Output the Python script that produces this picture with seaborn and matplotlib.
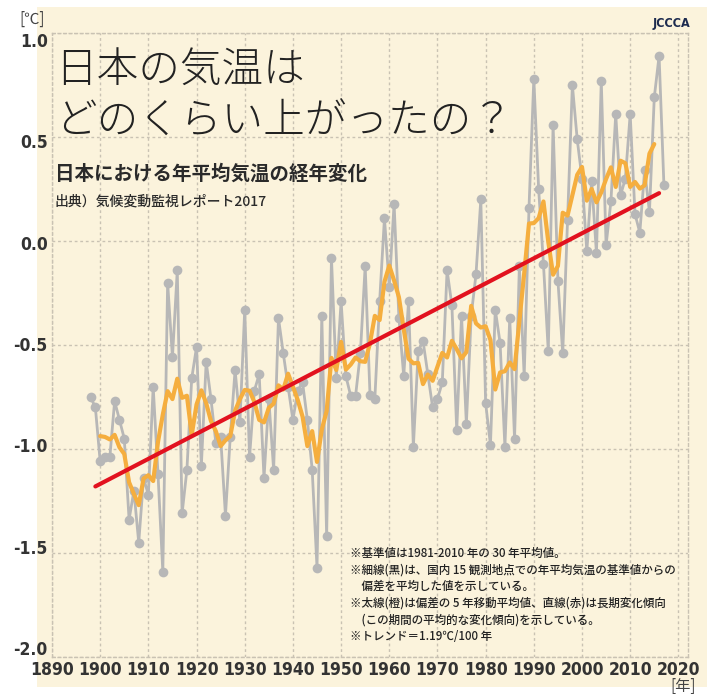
import matplotlib
matplotlib.use("Agg")
import matplotlib.pyplot as plt
import matplotlib.transforms as mtransforms
import numpy as np
import pandas as pd
import seaborn as sns
from matplotlib.patches import Rectangle

# annual mean temperature anomaly in Japan (deg C, base 1981-2010)
years = list(range(1898, 2018))
anomaly = [
    -0.75, -0.80, -1.06, -1.04, -1.04, -0.77, -0.86, -0.95, -1.34, -1.20,   # 1898-1907
    -1.45, -1.14, -1.22, -0.70, -1.12, -1.59, -0.20, -0.56, -0.14, -1.31,   # 1908-1917
    -1.10, -0.66, -0.51, -1.08, -0.58, -0.76, -0.97, -0.94, -1.32, -0.94,   # 1918-1927
    -0.62, -0.87, -0.33, -1.04, -0.72, -0.64, -1.14, -0.76, -1.10, -0.37,   # 1928-1937
    -0.54, -0.70, -0.86, -0.72, -0.68, -0.86, -1.10, -1.57, -0.36, -1.42,   # 1938-1947
    -0.08, -0.66, -0.29, -0.65, -0.745, -0.745, -0.54, -0.12, -0.74, -0.76,  # 1948-1957
    -0.29, 0.11, -0.22, 0.18, -0.37, -0.65, -0.29, -0.99, -0.53, -0.48,     # 1958-1967
    -0.64, -0.80, -0.76, -0.68, -0.14, -0.31, -0.91, -0.36, -0.88, -0.36,   # 1968-1977
    -0.16, 0.20, -0.78, -0.98, -0.33, -0.49, -0.99, -0.37, -0.95, -0.12,    # 1978-1987
    -0.65, 0.16, 0.78, 0.25, -0.11, -0.53, 0.56, -0.19, -0.54, 0.10,        # 1988-1997
    0.75, 0.49, 0.30, -0.05, 0.29, -0.06, 0.77, -0.02, 0.19, 0.61,          # 1998-2007
    0.22, 0.30, 0.61, 0.13, 0.04, 0.34, 0.14, 0.69, 0.89, 0.27,             # 2008-2017
]

# long-term trend line (1.19 C / 100 years), end points
trend_years = [1899, 2016]
trend_values = [-1.18, 0.23]

x_ticks = list(range(1890, 2021, 10))
y_ticks = [1.0, 0.5, 0.0, -0.5, -1.0, -1.5, -2.0]
y_labels = ["1.0", "0.5", "0.0", "-0.5", "-1.0", "-1.5", "-2.0"]

notes = [
    "※基準値は1981-2010 年の 30 年平均値。",
    "※細線(黒)は、国内 15 観測地点での年平均気温の基準値からの",
    "　偏差を平均した値を示している。",
    "※太線(橙)は偏差の 5 年移動平均値、直線(赤)は長期変化傾向",
    "　(この期間の平均的な変化傾向)を示している。",
    "※トレンド＝1.19℃/100 年",
]

df = pd.DataFrame({"year": years, "anomaly": anomaly})
# thick orange line: 5-year centred moving average of the anomaly
df["avg5"] = df["anomaly"].rolling(5, center=True).mean()

BG = "#FBF3DC"
GRID = "#C9C2B3"
TXT = "#333333"

sns.set_style("white")
plt.rcParams["font.family"] = ["Noto Sans CJK JP", "DejaVu Sans"]
plt.rcParams["axes.unicode_minus"] = False

fig = plt.figure(figsize=(7.07, 6.94), dpi=100)
fig.patches.append(Rectangle((37 / 707, 7 / 694), 1, 680 / 694, transform=fig.transFigure,
                             facecolor=BG, edgecolor="none", zorder=-10))

ax = fig.add_axes([52 / 707, 1 - 657 / 694, 636 / 707, 624 / 694])
ax.set_facecolor("none")

sns.lineplot(data=df, x="year", y="anomaly", color="#B7B7B7", lw=2, marker="o",
             markersize=7, markeredgewidth=0, ax=ax, zorder=2)
sns.lineplot(data=df.dropna(), x="year", y="avg5", color="#F5AE3E", lw=3, ax=ax, zorder=3)
sns.lineplot(x=trend_years, y=trend_values, color="#E2121F", lw=3, ax=ax, zorder=4)

ax.set_xlim(1890, 2022)
ax.set_ylim(-2.0, 1.0)
ax.set_xticks(x_ticks)
ax.set_yticks(y_ticks)
tick_kw = dict(family=["DejaVu Sans"], fontstretch="condensed", fontweight="bold",
               fontsize=12.5, color=TXT)
ax.set_xticklabels([str(t) for t in x_ticks], **tick_kw)
ax.set_yticklabels(y_labels, **tick_kw)
ax.tick_params(length=0, pad=3)
ax.set_xlabel("")
ax.set_ylabel("")

# y labels in the original sit a little inside the top and bottom grid lines
for i, lab in enumerate(ax.get_yticklabels()):
    dy = (7 - i * 16 / 6) / 100
    lab.set_transform(lab.get_transform() + mtransforms.ScaledTranslation(0, -dy, fig.dpi_scale_trans))

ax.grid(True, color=GRID, linestyle=(0, (2, 2)), lw=1)
ax.set_axisbelow(True)
for s in ax.spines.values():
    s.set_visible(True)
    s.set_color(GRID)
    s.set_linestyle((0, (2, 2)))
    s.set_linewidth(1)

# titles
fig.text(55 / 707, 1 - 70 / 694, "日本の気温は", fontsize=30, fontweight="light",
         color="#222222", va="center")
fig.text(55 / 707, 1 - 122 / 694, "どのくらい上がったの？", fontsize=30, fontweight="light",
         color="#222222", va="center")
fig.text(55 / 707, 1 - 174 / 694, "日本における年平均気温の経年変化", fontsize=14,
         fontweight="bold", color="#2a2a2a", va="center")
fig.text(55 / 707, 1 - 201 / 694, "出典）気候変動監視レポート2017", fontsize=10,
         fontweight="medium", color="#2a2a2a", va="center")

# units
fig.text(32 / 707, 1 - 19 / 694, "[℃]", fontsize=11, color="#444444", ha="center", va="center")
fig.text(683 / 707, 1 - 686 / 694, "[年]", fontsize=11, color="#444444", ha="center", va="center")

# logo
fig.text(671 / 707, 1 - 24 / 694, "JCCCA", fontsize=9, color="#1d2b4f", ha="center",
         va="center", fontweight="bold", family=["DejaVu Sans"], fontstretch="condensed")

# footnotes
for i, line in enumerate(notes):
    fig.text(350 / 707, 1 - (553 + i * 16.8) / 694, line, fontsize=8.3, color="#222222",
             fontweight="medium", va="center")

plt.savefig("out.png", dpi=100, facecolor="white")
